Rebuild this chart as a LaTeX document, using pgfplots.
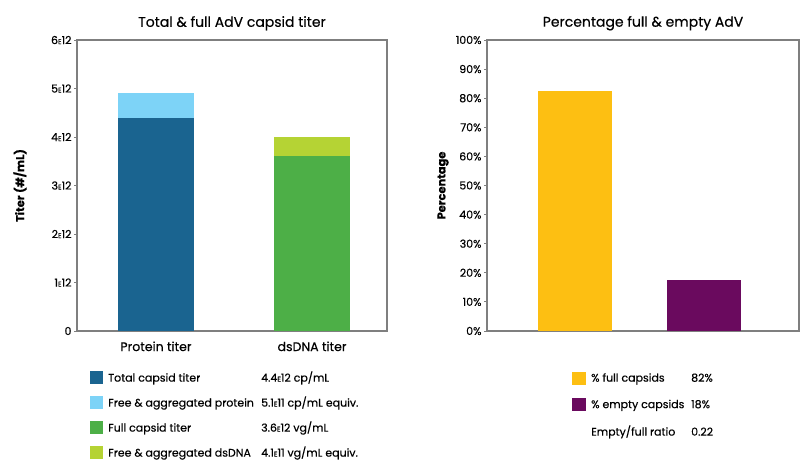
\documentclass[border=0pt]{standalone}
\usepackage{pgfplots}
\pgfplotsset{compat=1.18}
\usepackage{fontspec}
\setmainfont{Poppins}[FakeBold=0.4]
\definecolor{dblue}{HTML}{1A6490}
\definecolor{lblue}{HTML}{7DD3F7}
\definecolor{dgreen}{HTML}{4DAF47}
\definecolor{lgreen}{HTML}{B5D334}
\definecolor{cyellow}{HTML}{FDBF12}
\definecolor{cpurple}{HTML}{6A0A5E}
\definecolor{framegray}{HTML}{7F7F7F}
\newcommand{\E}{{\fontsize{7}{7}\selectfont E}}
\pgfplotsset{
  mystyle/.style={
    scale only axis,
    axis line style={framegray, line width=1.3pt},
    ymin=0,
    ytick pos=left,
    xtick style={draw=none},
    ytick style={framegray, line width=0.8pt},
    major tick length=3pt,
    tick align=outside,
    xtick=data,
    /pgf/number format/assume math mode=true,
    tick label style={font=\fontsize{11}{12}\selectfont, text=black},
    yticklabel style={xshift=1pt},
    xticklabel style={font=\fontsize{12.5}{14}\selectfont, yshift=-4pt},
    ylabel style={font=\fontsize{11.4}{13}\selectfont\bfseries, anchor=center},
    title style={font=\fontsize{14}{16}\selectfont, yshift=0pt},
    legend style={draw=none, fill=none, inner sep=0pt,
      font=\fontsize{11}{13}\selectfont,
      row sep=0pt,
      nodes={inner sep=0pt, anchor=west}},
    legend cell align=left,
  }
}
\begin{document}
\begin{tikzpicture}[x=1pt,y=1pt]
\path[use as bounding box] (0,0) rectangle (800,460);
% Left chart
\begin{axis}[
  mystyle,
  at={(77pt,129pt)}, anchor=south west,
  width=310pt, height=291pt,
  ybar stacked, bar width=76pt,
  xmin=-0.506, xmax=1.48,
  ymax=6,
  xticklabels={Protein titer, dsDNA titer},
  ytick={0,1,2,3,4,5,6},
  yticklabels={0,1\E12,2\E12,3\E12,4\E12,5\E12,6\E12},
  ylabel={Titer (\#/mL)},
  ylabel style={at={(axis description cs:-0.184,0.5)}},
  title={Total \& full AdV capsid titer},
  legend image code/.code={\fill[#1,draw=none] (0pt,-6.5pt) rectangle (13pt,6.5pt); \path[draw=none,fill=none] (0pt,-12.5pt) rectangle (18pt,12.5pt);},
  legend style={at={(rel axis cs:0,0)}, anchor=north west, xshift=13pt, yshift=-33.5pt},
]
\addplot[fill=dblue, draw=none] coordinates {(0,4.4) (1,0)};
\addlegendentry{\makebox[153pt][l]{Total capsid titer}4.4\E12 cp/mL}
\addplot[fill=lblue, draw=none] coordinates {(0,0.51) (1,0)};
\addlegendentry{\makebox[153pt][l]{Free \& aggregated protein}5.1\E11 cp/mL equiv.}
\addplot[fill=dgreen, draw=none] coordinates {(0,0) (1,3.6)};
\addlegendentry{\makebox[153pt][l]{Full capsid titer}3.6\E12 vg/mL}
\addplot[fill=lgreen, draw=none] coordinates {(0,0) (1,0.41)};
\addlegendentry{\makebox[153pt][l]{Free \& aggregated dsDNA}4.1\E11 vg/mL equiv.}
\end{axis}
% Right chart
\begin{axis}[
  mystyle,
  at={(487pt,129pt)}, anchor=south west,
  width=312pt, height=291pt,
  ybar stacked, bar width=74pt,
  xmin=-0.685, xmax=1.743,
  ymax=100,
  xticklabels={},
  ytick={0,10,...,100},
  yticklabel={\pgfmathprintnumber{\tick}\%},
  ylabel={Percentage},
  ylabel style={at={(axis description cs:-0.141,0.5)}},
  title={Percentage full \& empty AdV},
  legend image code/.code={\fill[#1,draw=none] (0pt,-6.7pt) rectangle (13.5pt,6.7pt); \path[draw=none,fill=none] (0pt,-13.25pt) rectangle (19pt,13.25pt);},
  legend style={at={(rel axis cs:0,0)}, anchor=north west, xshift=85pt, yshift=-33.75pt},
]
\addplot[fill=cyellow, draw=none] coordinates {(0,82.5) (1,0)};
\addlegendentry{\makebox[100pt][l]{\% full capsids}82\%}
\addplot[fill=cpurple, draw=none] coordinates {(0,0) (1,17.5)};
\addlegendentry{\makebox[100pt][l]{\% empty capsids}18\%}
\addlegendimage{legend image code/.code={\path[draw=none,fill=none] (0pt,-13.25pt) rectangle (19pt,13.25pt);}}
\addlegendentry{\makebox[100pt][l]{Empty/full ratio}0.22}
\end{axis}
\end{tikzpicture}
\end{document}
